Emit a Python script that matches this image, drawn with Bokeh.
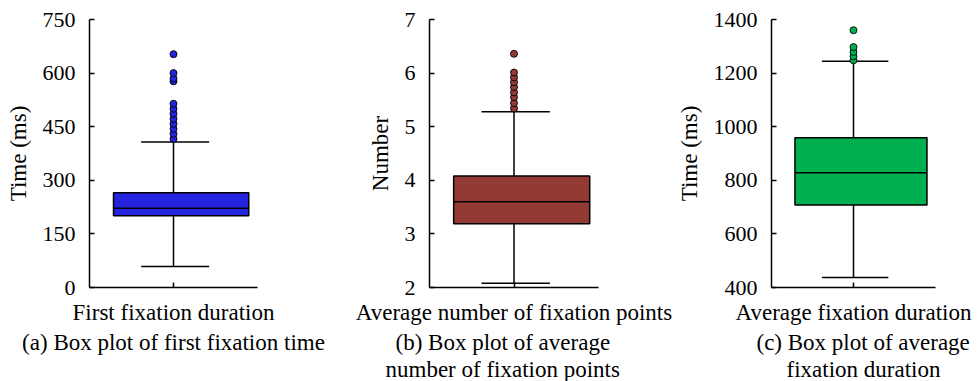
from bokeh.plotting import figure
from bokeh.layouts import row
from bokeh.models import Range1d, FactorRange, FixedTicker, Title, ColumnDataSource
from bokeh.transform import dodge
from bokeh.embed import file_html
from bokeh.resources import INLINE

# ---------------- data ----------------
categories = ["First fixation duration",
              "Average number of fixation points",
              "Average fixation duration"]
y_labels = ["Time (ms)", "Number", "Time (ms)"]
captions = [["(a) Box plot of first fixation time"],
            ["(b) Box plot of average", "number of fixation points"],
            ["(c) Box plot of average", "fixation duration"]]

lower_whisker = [59, 2.08, 437]
q1 = [201, 3.19, 708]
median = [222, 3.60, 828]
q3 = [265, 4.08, 959]
upper_whisker = [407, 5.28, 1244]

outliers_a = [416, 430, 444, 458, 472, 486, 500, 514, 577, 585, 600, 653]
outliers_b = [5.34, 5.44, 5.55, 5.64, 5.74, 5.83, 5.92, 6.01, 6.36]
outliers_c = [1248, 1263, 1279, 1297, 1360]
outliers = [outliers_a, outliers_b, outliers_c]

y_ticks_a = [0, 150, 300, 450, 600, 750]
y_ticks_b = [2, 3, 4, 5, 6, 7]
y_ticks_c = [400, 600, 800, 1000, 1200, 1400]
y_ticks = [y_ticks_a, y_ticks_b, y_ticks_c]

# ---------------- style ----------------
colors = ["#2424DE", "#943A34", "#00AF50"]
FONT = "Liberation Serif"
TICK_SIZE = "22px"
LABEL_SIZE = "23px"
BOX_W = 0.805
BOX_SHIFT = 0.0455
CAP_W = 0.405
CAP_SHIFT = 0.01
LW = 1.5

fig_widths = [340, 333, 307]
borders_left = [89, 89, 93]
borders_right = [83, 75, 45]
# caption placement: (align, offset from frame left in px)
caption_offsets = [[("center", 0)],
                   [("left", -34), ("left", -44)],
                   [("left", -15), ("left", 15)]]


def make_panel(i):
    ymin, ymax = y_ticks[i][0], y_ticks[i][-1]
    p = figure(width=fig_widths[i], height=381,
               x_range=FactorRange(factors=[categories[i]]),
               y_range=Range1d(ymin, ymax),
               output_backend="svg", toolbar_location=None,
               min_border_left=borders_left[i], min_border_right=borders_right[i],
               min_border_top=19, min_border_bottom=94)
    p.outline_line_color = None
    p.xgrid.visible = False
    p.ygrid.visible = False
    p.background_fill_color = "white"
    p.border_fill_color = "white"

    src = ColumnDataSource(dict(cat=[categories[i]], lw=[lower_whisker[i]], q1=[q1[i]],
                                med=[median[i]], q3=[q3[i]], uw=[upper_whisker[i]]))

    # whiskers
    p.segment(x0="cat", x1="cat", y0="q3", y1="uw", source=src, line_color="black", line_width=LW)
    p.segment(x0="cat", x1="cat", y0="q1", y1="lw", source=src, line_color="black", line_width=LW)
    # caps
    p.segment(x0=dodge("cat", CAP_SHIFT - CAP_W / 2, range=p.x_range),
              x1=dodge("cat", CAP_SHIFT + CAP_W / 2, range=p.x_range),
              y0="uw", y1="uw", source=src, line_color="black", line_width=LW)
    p.segment(x0=dodge("cat", CAP_SHIFT - CAP_W / 2, range=p.x_range),
              x1=dodge("cat", CAP_SHIFT + CAP_W / 2, range=p.x_range),
              y0="lw", y1="lw", source=src, line_color="black", line_width=LW)
    # box
    p.vbar(x=dodge("cat", BOX_SHIFT, range=p.x_range), width=BOX_W, top="q3", bottom="q1",
           source=src, fill_color=colors[i], line_color="black", line_width=LW)
    # median
    p.segment(x0=dodge("cat", BOX_SHIFT - BOX_W / 2, range=p.x_range),
              x1=dodge("cat", BOX_SHIFT + BOX_W / 2, range=p.x_range),
              y0="med", y1="med", source=src, line_color="black", line_width=LW)
    # outliers
    osrc = ColumnDataSource(dict(cat=[categories[i]] * len(outliers[i]), y=outliers[i]))
    p.scatter(x="cat", y="y", source=osrc, size=7, fill_color=colors[i],
              line_color="black", line_width=0.9)

    # axes
    p.yaxis.ticker = FixedTicker(ticks=y_ticks[i])
    p.yaxis.minor_tick_line_color = None
    p.yaxis.axis_label = y_labels[i]
    for ax in (p.xaxis[0], p.yaxis[0]):
        ax.axis_line_color = "black"
        ax.axis_line_width = LW
        ax.major_tick_line_color = "black"
        ax.major_tick_line_width = LW
        ax.major_tick_in = 5
        ax.major_tick_out = 0
        ax.major_label_text_font = FONT
        ax.major_label_text_color = "black"
        ax.axis_label_text_font = FONT
        ax.axis_label_text_font_size = LABEL_SIZE
        ax.axis_label_text_font_style = "normal"
        ax.axis_label_text_color = "black"
    p.yaxis.major_label_text_font_size = TICK_SIZE
    p.yaxis.major_label_standoff = 14
    p.yaxis.axis_label_standoff = 9
    p.xaxis.major_label_text_font_size = LABEL_SIZE
    p.xaxis.major_label_standoff = 12

    for line, (align, off) in zip(captions[i], caption_offsets[i]):
        t = Title(text=line, align=align, text_font=FONT, text_font_size=LABEL_SIZE,
                  text_font_style="normal", text_color="black", offset=off,
                  standoff=0)
        p.add_layout(t, "below")
    return p


panels = [make_panel(i) for i in range(3)]
layout = row(*panels)
open("out.html", "w").write(file_html(layout, INLINE))
